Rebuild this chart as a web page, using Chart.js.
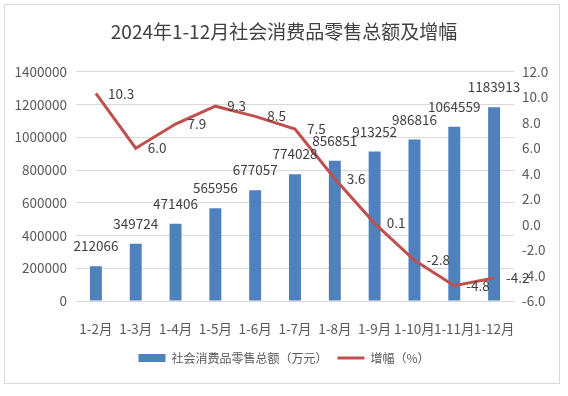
<!DOCTYPE html>
<html>
<head>
<meta charset="utf-8">
<script src="https://cdn.jsdelivr.net/npm/chart.js@4.4.0/dist/chart.umd.min.js"></script>
<style>
body { margin: 0; background: #fff; }
#wrap { position: relative; width: 568px; height: 396px; }
#frame { position: absolute; left: 4px; top: 4px; width: 554px; height: 378px; border: 1px solid #d9d9d9; pointer-events: none; }
</style>
</head>
<body>
<div id="wrap">
  <canvas id="chart" width="568" height="396"></canvas>
  <div id="frame"></div>
</div>
<script>
// ===== DATA =====
const months = ["1-2月", "1-3月", "1-4月", "1-5月", "1-6月", "1-7月", "1-8月", "1-9月", "1-10月", "1-11月", "1-12月"];
const retailTotal = [212066, 349724, 471406, 565956, 677057, 774028, 856851, 913252, 986816, 1064559, 1183913];
const growthRate = [10.3, 6.0, 7.9, 9.3, 8.5, 7.5, 3.6, 0.1, -2.8, -4.8, -4.2];

const leftAxis = { min: 0, max: 1400000, step: 200000 };
const rightAxis = { min: -6, max: 12, step: 2 };

const FONT = '"Noto Sans CJK SC", "Noto Sans", sans-serif';
const GRAY = '#595959';

// ===== DATA LABELS =====
const valueLabels = {
  id: 'valueLabels',
  afterDatasetsDraw(chart) {
    let ctx = chart.ctx;
    ctx.save();
    ctx.font = '13.5px ' + FONT;
    ctx.fillStyle = '#404040';
    ctx.textBaseline = 'middle';

    ctx.textAlign = 'center';
    chart.getDatasetMeta(0).data.forEach((bar, i) => {
      ctx.fillText(String(retailTotal[i]), bar.x, bar.y - 20);
    });

    ctx.textAlign = 'left';
    chart.getDatasetMeta(1).data.forEach((pt, i) => {
      ctx.fillText(growthRate[i].toFixed(1), pt.x + 12, pt.y);
    });
    ctx.restore();
  }
};

// ===== CHART =====
new Chart(document.getElementById("chart"), {
  type: 'bar',
  data: {
    labels: months,
    datasets: [
      {
        label: '社会消费品零售总额（万元）',
        data: retailTotal,
        backgroundColor: '#4f81bd',
        borderWidth: 0,
        barPercentage: 0.3,
        categoryPercentage: 1,
        pointStyle: 'rect',
        yAxisID: 'y',
        order: 1
      },
      {
        type: 'line',
        label: '增幅（%）',
        data: growthRate,
        borderColor: '#c0504d',
        borderWidth: 3,
        tension: 0,
        pointRadius: 0,
        pointStyle: 'line',
        pointBorderColor: '#c0504d',
        pointBorderWidth: 3,
        yAxisID: 'y1',
        order: 0
      }
    ]
  },
  options: {
    responsive: false,
    animation: false,
    devicePixelRatio: 1,
    layout: { padding: { top: 0, bottom: 22, left: 0, right: 0 } },
    plugins: {
      title: {
        display: true,
        text: '2024年1-12月社会消费品零售总额及增幅',
        color: '#404040',
        font: { family: FONT, size: 19, weight: 'normal' },
        padding: { top: 20, bottom: 29 }
      },
      legend: {
        position: 'bottom',
        labels: {
          usePointStyle: true,
          pointStyleWidth: 27,
          boxHeight: 8,
          padding: 10,
          color: GRAY,
          font: { family: FONT, size: 12 },
          sort: (a, b) => a.datasetIndex - b.datasetIndex
        }
      },
      tooltip: { enabled: false }
    },
    scales: {
      x: {
        grid: { display: false },
        border: { display: false },
        ticks: { color: GRAY, font: { family: FONT, size: 13.5 }, padding: 12, maxRotation: 0, autoSkip: false },
        afterFit(s) { s.height = 41; }
      },
      y: {
        position: 'left',
        min: leftAxis.min,
        max: leftAxis.max,
        ticks: { stepSize: leftAxis.step, color: GRAY, font: { family: FONT, size: 13.5 }, padding: 9, callback: v => String(v) },
        grid: { color: '#d9d9d9', drawTicks: false },
        border: { display: false },
        afterFit(s) { s.width = 76; }
      },
      y1: {
        position: 'right',
        min: rightAxis.min,
        max: rightAxis.max,
        ticks: { stepSize: rightAxis.step, color: GRAY, font: { family: FONT, size: 13.5 }, padding: 8, callback: v => v.toFixed(1) },
        grid: { display: false, drawTicks: false },
        border: { display: false },
        afterFit(s) { s.width = 54; }
      }
    }
  },
  plugins: [valueLabels]
});
</script>
</body>
</html>
